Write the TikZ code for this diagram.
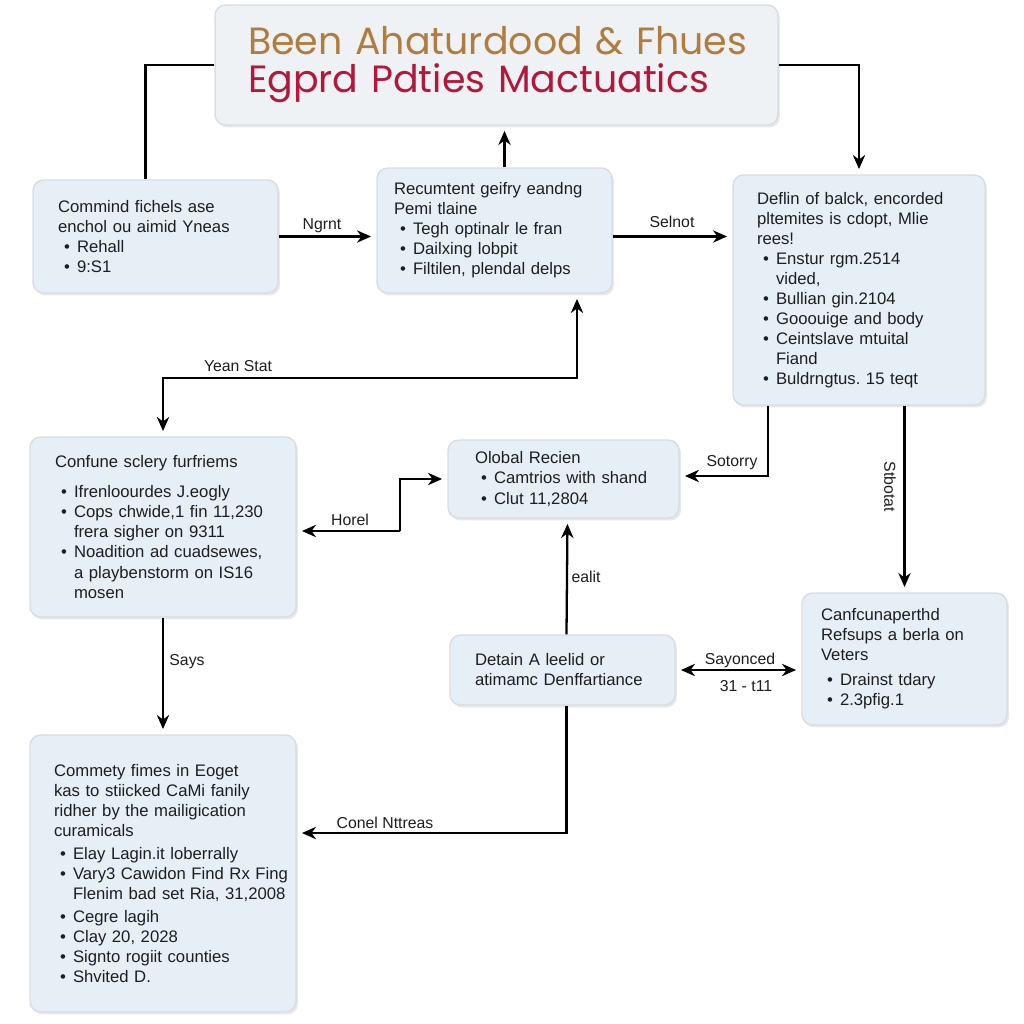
\documentclass[tikz,border=0pt]{standalone}
\usepackage{fontspec}
\setmainfont{Liberation Sans}
\newfontfamily\titlefont{Poppins}
\usepackage{xcolor}
\usetikzlibrary{arrows.meta,shadows}
\definecolor{boxfill}{RGB}{230,239,245}
\definecolor{titlefill}{RGB}{239,242,244}
\definecolor{boxline}{RGB}{214,222,228}
\definecolor{titlegold}{RGB}{176,125,62}
\definecolor{titlered}{RGB}{179,24,58}
\definecolor{ink}{RGB}{30,30,30}
\newcommand\bul{\hspace*{0.12cm}\makebox[0.26cm][l]{\textbullet}}
\newcommand\cnt{\hspace*{0.38cm}}
\frenchspacing
\tikzset{
	panel/.style={draw=boxline,line width=0.8pt,fill=boxfill,rounded corners=6pt,
		drop shadow={opacity=0.18,shadow xshift=0.04cm,shadow yshift=-0.05cm},
		align=left,text=ink,font=\fontsize{9.5}{11.4}\selectfont,inner ysep=0pt},
	conn/.style={line width=1.3pt,-{Stealth[length=8pt,width=7pt]},shorten >=3pt},
	conn2/.style={line width=1.3pt,{Stealth[length=8pt,width=7pt]}-{Stealth[length=8pt,width=7pt]},shorten >=3pt,shorten <=3pt},
	plain/.style={line width=1.3pt},
	lbl/.style={font=\fontsize{9}{10}\selectfont,text=ink,inner sep=1pt}
}
\begin{document}
\begin{tikzpicture}[x=0.02cm,y=-0.02cm]
	\useasboundingbox[fill=white] (0,0) rectangle (1024,1024);
	% title
	\node[panel,fill=titlefill,minimum width=11.26cm,minimum height=2.4cm,inner xsep=0.66cm,text width=9.94cm,
		font=\titlefont\fontsize{21.6}{21.6}\selectfont] (T) at (496.5,65)
		{\mbox{\textcolor{titlegold}{Been Ahaturdood \& Fhues}}\\\mbox{\textcolor{titlered}{Egprd Pdties Mactuatics}}};
	% boxes
	\node[panel,minimum width=4.9cm,minimum height=2.26cm,inner xsep=0.5cm,text width=3.9cm] (A) at (155.5,236.5)
		{Commind fichels ase\\enchol ou aimid Yneas\\\bul Rehall\\\bul 9:S1};
	\node[panel,minimum width=4.7cm,minimum height=2.5cm,inner xsep=0.34cm,text width=4.02cm] (B) at (494.5,230.5)
		{Recumtent geifry eandng\\Pemi tlaine\\\bul Tegh optinalr le fran\\\bul Dailxing lobpit\\\bul Filtilen, plendal delps};
	\node[panel,minimum width=5.04cm,minimum height=4.6cm,inner xsep=0.48cm,text width=4.08cm] (C) at (859,290)
		{Deflin of balck, encorded\\pltemites is cdopt, Mlie\\rees!\\\bul Enstur rgm.2514\\\cnt vided,\\\bul Bullian gin.2104\\\bul Gooouige and body\\\bul Ceintslave mtuital\\\cnt Fiand\\\bul Buldrngtus. 15 teqt};
	\node[panel,minimum width=5.32cm,minimum height=3.6cm,inner xsep=0.5cm,text width=4.32cm] (D) at (163,527)
		{Confune sclery furfriems\\[0.2cm]\bul Ifrenloourdes J.eogly\\\bul Cops chwide,1 fin 11,230\\\cnt frera sigher on 9311\\\bul Noadition ad cuadsewes,\\\cnt a playbenstorm on IS16\\\cnt mosen};
	\node[panel,minimum width=4.62cm,minimum height=1.56cm,inner xsep=0.54cm,text width=3.54cm] (E) at (563.5,479)
		{Olobal Recien\\\bul Camtrios with shand\\\bul Clut 11,2804};
	\node[panel,minimum width=4.1cm,minimum height=2.64cm,inner xsep=0.38cm,text width=3.34cm] (F) at (904.5,659)
		{Canfcunaperthd\\Refsups a berla on\\Veters\\[0.1cm]\bul Drainst tdary\\\bul 2.3pfig.1};
	\node[panel,minimum width=4.5cm,minimum height=1.4cm,inner xsep=0.5cm,text width=3.5cm] (G) at (562.5,670)
		{Detain A leelid or\\atimamc Denffartiance};
	\node[panel,minimum width=5.32cm,minimum height=5.54cm,inner xsep=0.48cm,text width=4.36cm] (H) at (163,873.5)
		{Commety fimes in Eoget\\kas to stiicked CaMi fanily\\ridher by the mailigication\\curamicals\\[0.05cm]\bul Elay Lagin.it loberrally\\\bul \mbox{Vary3 Cawidon Find Rx Fing}\\\cnt \mbox{Flenim bad set Ria, 31,2008}\\[0.05cm]\bul Cegre lagih\\\bul Clay 20, 2028\\\bul Signto rogiit counties\\\bul Shvited D.};
	% helper points
	\coordinate (ys) at (0,378);
	\coordinate (hx) at (400,531);
	% connectors
	\draw[plain] ([xshift=-0.2cm]A.north) |- (T.west);
	\draw[conn] (T.east) -| (C.north);
	\draw[conn] ([xshift=0.2cm]B.north) -- ([xshift=0.2cm]B.north |- T.south);
	\draw[conn] (A.east) -- (A.east -| B.west);
	\draw[conn] (B.east |- A.east) -- (A.east -| C.west);
	\draw[conn2] ([xshift=1.65cm]B.south) -- ([xshift=1.65cm]B.south |- ys) -| (D.north);
	\draw[conn2] (E.west) -| (hx) |- ([yshift=-0.08cm]D.east);
	\draw[conn] ([xshift=-1.82cm]C.south) |- ([yshift=0.06cm]E.east);
	\draw[conn] (F.north |- C.south) -- (F.north);
	\draw[conn] ([xshift=0.08cm]G.north) -- ([xshift=0.08cm]E.south);
	\draw[conn2] (G.east) -- (G.east -| F.west);
	\draw[conn] (D.south) -- (H.north);
	\draw[conn] ([xshift=0.08cm]G.south) |- ([yshift=0.81cm]H.east);
	% labels
	\node[lbl] (l1) at (322,226) {Ngrnt};
	\node[lbl] (l2) at (672,222) {Selnot};
	\node[lbl] (l3) at (238,366) {Yean Stat};
	\node[lbl] (l4) at (350,520) {Horel};
	\node[lbl] (l5) at (732,463) {Sotorry};
	\node[lbl,rotate=-90] (l6) at (890,487) {Stbotat};
	\node[lbl] (l7) at (586,577) {ealit};
	\node[lbl] (l8) at (740,660) {Sayonced};
	\node[lbl] (l9) at (746,686) {31 - t11};
	\node[lbl] (l10) at (187,662) {Says};
	\node[lbl] (l11) at (385,823) {Conel Nttreas};
\end{tikzpicture}
\end{document}
